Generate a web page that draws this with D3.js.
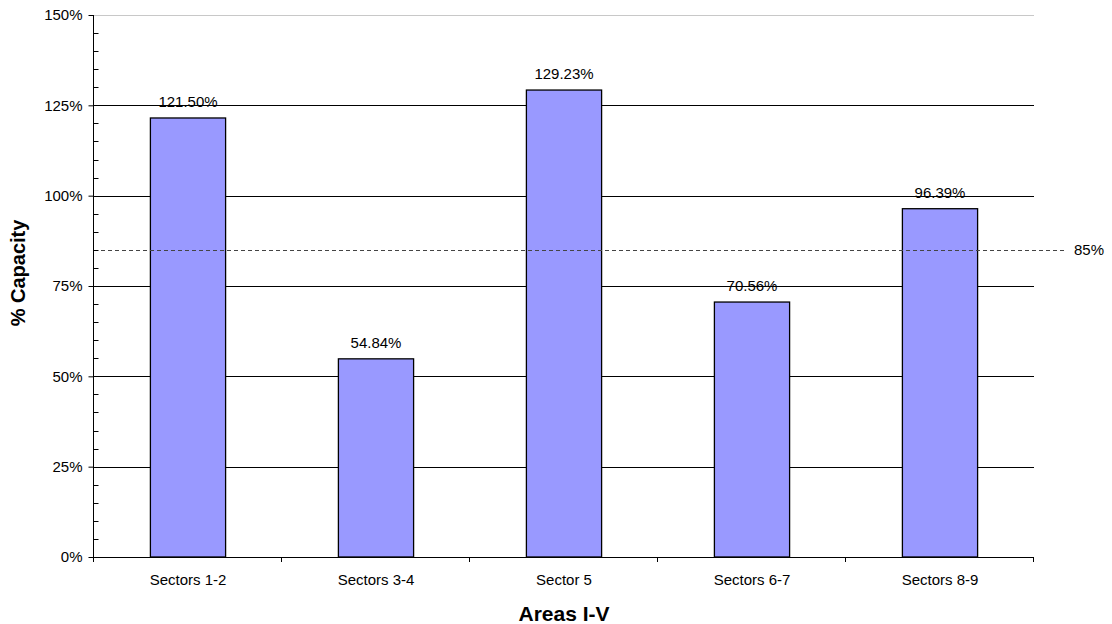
<!DOCTYPE html>
<html>
<head>
<meta charset="utf-8">
<script src="https://cdn.jsdelivr.net/npm/d3@7"></script>
<style>
  html, body { margin: 0; padding: 0; background: #fff; }
  svg { display: block; font-family: "Liberation Sans", Arial, sans-serif; }
</style>
</head>
<body>
<svg id="chart" width="1112" height="624"></svg>
<script>
// Capacity utilisation per sector group
const categories = ["Sectors 1-2", "Sectors 3-4", "Sector 5", "Sectors 6-7", "Sectors 8-9"];
const capacity = [121.50, 54.84, 129.23, 70.56, 96.39];
const yTicks = [0, 25, 50, 75, 100, 125, 150];
const threshold = 85;

const svg = d3.select("#chart");
const margin = { left: 94, right: 78, top: 15, bottom: 67 };
const W = 1112, H = 624;
const x0 = margin.left, x1 = W - margin.right;
const y0 = H - margin.bottom, y1 = margin.top;

const x = d3.scaleBand().domain(categories).range([x0, x1]).paddingInner(0.6).paddingOuter(0.3);
const xb = d3.scaleBand().domain(categories).range([x0, x1]);
const y = d3.scaleLinear().domain([0, 150]).range([y0, y1]);

// horizontal gridlines
svg.append("g").selectAll("line").data(yTicks.filter(d => d > 0)).join("line")
  .attr("x1", x0).attr("x2", x1)
  .attr("y1", d => Math.round(y(d)) + 0.5).attr("y2", d => Math.round(y(d)) + 0.5)
  .attr("stroke", d => d === 150 ? "#c8c8c8" : "#000")
  .attr("stroke-width", 1);

// bars
svg.append("g").selectAll("rect").data(capacity).join("rect")
  .attr("x", (d, i) => x(categories[i]))
  .attr("width", x.bandwidth())
  .attr("y", d => y(d))
  .attr("height", d => y0 - y(d))
  .attr("fill", "#9999FF")
  .attr("stroke", "#000")
  .attr("stroke-width", 1.3);

// value labels
svg.append("g").selectAll("text").data(capacity).join("text")
  .attr("x", (d, i) => x(categories[i]) + x.bandwidth() / 2)
  .attr("y", d => y(d) - 11)
  .attr("text-anchor", "middle")
  .attr("font-size", 15)
  .attr("fill", "#000")
  .text(d => d.toFixed(2) + "%");

// 85% reference line
svg.append("line")
  .attr("x1", x0).attr("x2", 1067)
  .attr("y1", Math.round(y(threshold)) + 0.5).attr("y2", Math.round(y(threshold)) + 0.5)
  .attr("stroke", "#444")
  .attr("stroke-width", 1)
  .attr("stroke-dasharray", "4,3");
svg.append("text")
  .attr("x", 1074).attr("y", y(threshold) + 5)
  .attr("font-size", 15)
  .text(threshold + "%");

// y axis
const yAxis = svg.append("g").attr("transform", `translate(${x0 - 0.5},0)`)
  .call(d3.axisLeft(y).tickValues(yTicks).tickSize(5).tickPadding(6).tickFormat(d => d + "%"));
yAxis.select(".domain").attr("stroke", "#000").attr("d", `M0,${y1}V${y0 + 5}`);
yAxis.selectAll("text").attr("font-size", 15).attr("font-family", "Liberation Sans, Arial, sans-serif").attr("fill", "#000");
yAxis.selectAll("line").attr("stroke", "#000");
// minor ticks every 5%
svg.append("g").attr("transform", `translate(${x0 - 0.5},0)`)
  .selectAll("line").data(d3.range(5, 150, 5).filter(v => v % 25 !== 0)).join("line")
  .attr("x1", 0).attr("x2", 5)
  .attr("y1", d => Math.round(y(d)) + 0.5).attr("y2", d => Math.round(y(d)) + 0.5)
  .attr("stroke", "#000");

// x axis
const xg = svg.append("g");
xg.append("line").attr("x1", x0).attr("x2", x1)
  .attr("y1", y0 + 0.5).attr("y2", y0 + 0.5).attr("stroke", "#000");
const bounds = categories.map(c => xb(c)).concat([x1]);
xg.selectAll("line.tick").data(bounds).join("line").attr("class", "tick")
  .attr("x1", d => Math.round(d) - 0.5).attr("x2", d => Math.round(d) - 0.5)
  .attr("y1", y0).attr("y2", y0 + 5).attr("stroke", "#000");
xg.selectAll("text").data(categories).join("text")
  .attr("x", d => xb(d) + xb.bandwidth() / 2)
  .attr("y", y0 + 28)
  .attr("text-anchor", "middle")
  .attr("font-size", 15)
  .text(d => d);

// axis titles
svg.append("text")
  .attr("x", (x0 + x1) / 2).attr("y", 621)
  .attr("text-anchor", "middle")
  .attr("font-size", 21).attr("font-weight", "bold")
  .text("Areas I-V");
svg.append("text")
  .attr("transform", `translate(25,${(y0 + y1) / 2 - 13}) rotate(-90)`)
  .attr("text-anchor", "middle")
  .attr("font-size", 20).attr("font-weight", "bold")
  .text("% Capacity");
</script>
</body>
</html>
